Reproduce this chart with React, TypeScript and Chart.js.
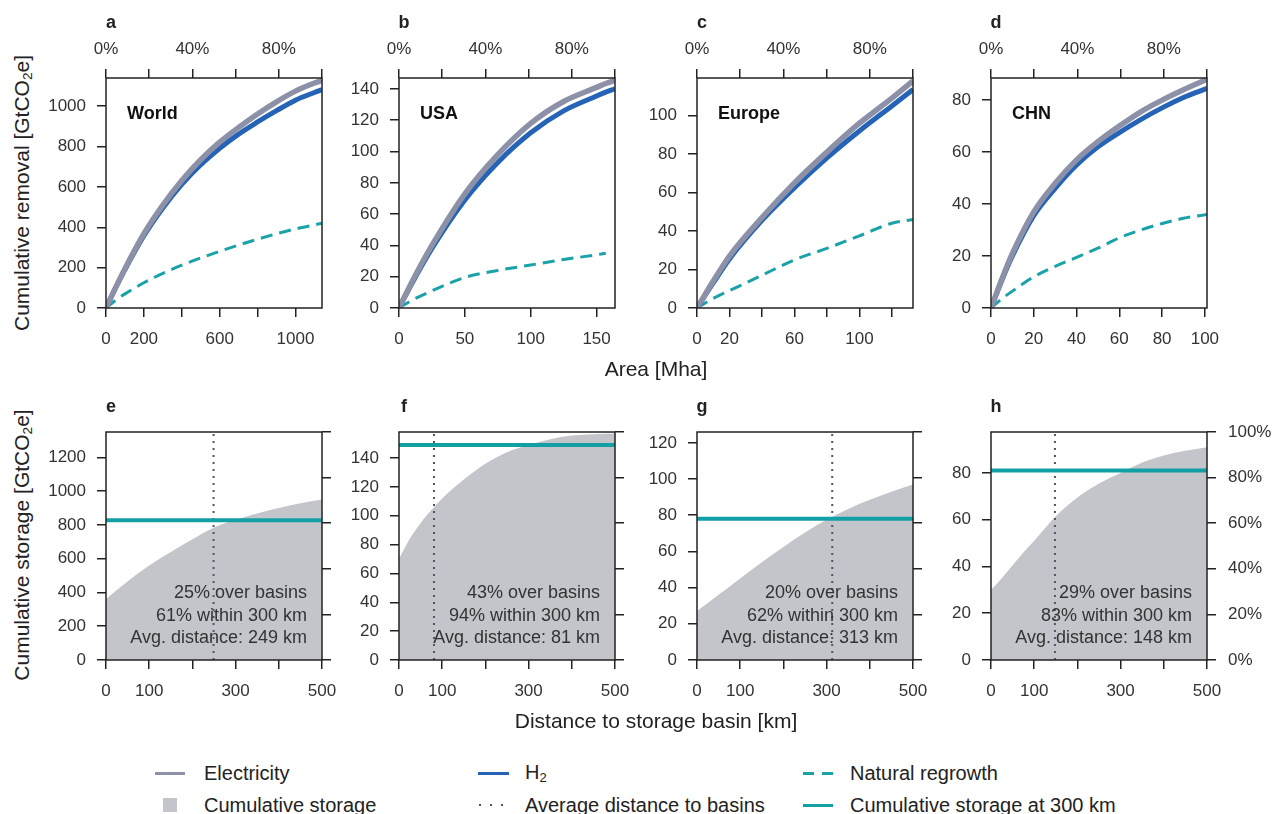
import React, { useEffect, useRef } from 'react';
import { Chart, registerables } from 'chart.js';

Chart.register(...registerables);

const FONT = '"Liberation Sans", Arial, Helvetica, sans-serif';
const GREY = '#8d91a8';
const BLUE = '#2563b6';
const TEAL_DASH = '#19a3a8';
const TEAL = '#12a0a4';
const AREA = '#c3c5cb';
const DOT = '#4f5569';
const INK = '#222';
const TICK_TXT = '#333';

// ---------- top row: cumulative removal vs area ----------
const regionNames = ['World', 'USA', 'Europe', 'CHN'];

const areaWorld = [0, 50, 100, 200, 300, 400, 500, 600, 700, 800, 900, 1000, 1100, 1140];
const elecWorld = [0, 100, 195, 368, 510, 632, 735, 822, 895, 962, 1022, 1075, 1115, 1128];
const h2World = [0, 98, 190, 358, 496, 613, 710, 792, 862, 922, 978, 1030, 1068, 1082];
const regrowthWorld = [0, 38, 70, 125, 172, 212, 248, 281, 312, 341, 368, 392, 412, 420];

const areaUSA = [0, 10, 25, 50, 75, 100, 125, 150, 157, 164];
const elecUSA = [0, 17, 40, 73, 98, 118, 132, 141, 143.5, 145.5];
const h2USA = [0, 16, 38, 69, 93, 112, 126, 135.5, 138, 140];
const regrowthUSA = [0, 5, 11, 19.5, 24, 27.5, 31, 34, 35, null];

const areaEurope = [0, 10, 20, 40, 60, 80, 100, 120, 133];
const elecEurope = [0, 14, 27, 47, 65, 81, 96, 109, 118];
const h2Europe = [0, 13, 25.5, 45.5, 62.5, 78, 92, 105, 113.5];
const regrowthEurope = [0, 5, 9, 17, 25, 31, 37.5, 44, 46];

const areaChina = [0, 5, 10, 20, 30, 40, 50, 60, 70, 80, 90, 101];
const elecChina = [0, 11, 21, 37, 48, 57, 64, 70, 75.5, 80, 84, 88];
const h2China = [0, 10.5, 20, 35.5, 46, 55, 62, 67.5, 72.5, 77, 81, 84.5];
const regrowthChina = [0, 3.5, 6.5, 12, 16, 19.5, 23, 27, 30, 32.5, 34.5, 36];

const areaSeries = [areaWorld, areaUSA, areaEurope, areaChina];
const elecSeries = [elecWorld, elecUSA, elecEurope, elecChina];
const h2Series = [h2World, h2USA, h2Europe, h2China];
const regrowthSeries = [regrowthWorld, regrowthUSA, regrowthEurope, regrowthChina];

const areaMax = [1140, 164, 133, 101];
const removalMax = [1140, 147, 119.5, 88.5];
const areaStep = [200, 50, 20, 20];
const removalStep = [200, 20, 20, 20];
const hiddenAreaTicks = [[400, 800], [], [40, 80, 120], []];
const percentTickLabels = [0, 40, 80];

// ---------- bottom row: cumulative storage vs distance ----------
const distanceKm = [0, 25, 50, 75, 100, 150, 200, 250, 300, 350, 400, 450, 500];
const storageWorld = [360, 415, 465, 515, 560, 640, 715, 785, 830, 868, 900, 928, 950];
const storageUSA = [70, 84, 95, 104, 112, 125, 136, 144, 149, 153, 155.5, 156.5, 157];
const storageEurope = [27, 31.5, 36, 40.5, 45, 54, 62.5, 70.5, 77.5, 83.5, 88.5, 93, 97];
const storageChina = [30, 35, 40.5, 46, 51, 61.5, 69.5, 75.5, 80, 84.5, 87.5, 89.5, 91];
const storageSeries = [storageWorld, storageUSA, storageEurope, storageChina];

const storageAt300 = [828, 149, 78, 81];
const storageTotal = [1350, 158, 126, 97.5];
const storageStep = [200, 20, 20, 20];
const avgDistance = [249, 81, 313, 148];
const overBasinsPct = [25, 43, 20, 29];
const within300Pct = [61, 94, 62, 83];
const hiddenDistanceTicks = [200, 400];

const panelLetters = ['a', 'b', 'c', 'd', 'e', 'f', 'g', 'h'];

// ---------- layout ----------
const BOX_LEFT = [106, 399, 697, 991];
const BOX_W = 216;
const TOP_Y = 78;
const TOP_H = 230;
const BOT_Y = 432;
const BOT_H = 228;
const ML = 70, MR = 70, MT = 55, MB = 55;

const tickGrid = {
  drawOnChartArea: false,
  drawTicks: true,
  tickLength: 9,
  tickWidth: 1.5,
  tickColor: INK,
  color: INK,
  lineWidth: 1.5,
};
const tickFont = { family: FONT, size: 17 };

const panelPlugin = {
  id: 'panelBox',
  afterDraw(chart: any, _args: any, opts: any) {
    const { ctx, chartArea } = chart;
    const { left, top, right, bottom } = chartArea;
    ctx.save();
    if (opts.label) {
      ctx.fillStyle = '#111';
      ctx.font = `bold 18px ${FONT}`;
      ctx.textAlign = 'left';
      ctx.textBaseline = 'alphabetic';
      ctx.fillText(opts.label, left + 21, top + 41);
    }
    if (opts.notes) {
      ctx.fillStyle = TICK_TXT;
      ctx.font = `18px ${FONT}`;
      ctx.textAlign = 'right';
      ctx.textBaseline = 'alphabetic';
      const offs = [62, 39, 17];
      opts.notes.forEach((t: string, k: number) => ctx.fillText(t, right - 15, bottom - offs[k]));
    }
    ctx.strokeStyle = INK;
    ctx.lineWidth = 1.5;
    ctx.strokeRect(left, top, right - left, bottom - top);
    ctx.restore();
  },
};

function pts(xs: number[], ys: (number | null)[]) {
  const out: { x: number; y: number }[] = [];
  xs.forEach((x, k) => {
    const y = ys[k];
    if (y !== null && y !== undefined) out.push({ x, y });
  });
  return out;
}

function topConfig(i: number): any {
  const xs = areaSeries[i];
  const hidden = hiddenAreaTicks[i];
  return {
    type: 'line',
    data: {
      datasets: [
        {
          label: 'Natural regrowth',
          data: pts(xs, regrowthSeries[i]),
          borderColor: TEAL_DASH,
          borderWidth: 3,
          borderDash: [12, 7],
          pointRadius: 0,
          cubicInterpolationMode: 'monotone',
          fill: false,
          order: 3,
        },
        {
          label: 'H2',
          data: pts(xs, h2Series[i]),
          borderColor: BLUE,
          borderWidth: 5,
          pointRadius: 0,
          cubicInterpolationMode: 'monotone',
          fill: false,
          order: 2,
        },
        {
          label: 'Electricity',
          data: pts(xs, elecSeries[i]),
          borderColor: GREY,
          borderWidth: 5.5,
          pointRadius: 0,
          cubicInterpolationMode: 'monotone',
          fill: false,
          order: 1,
        },
      ],
    },
    options: {
      animation: false,
      responsive: false,
      maintainAspectRatio: false,
      events: [],
      layout: { padding: { left: 0, right: MR, top: 0, bottom: 0 } },
      plugins: {
        legend: { display: false },
        tooltip: { enabled: false },
        panelBox: { label: regionNames[i] },
      },
      scales: {
        x: {
          type: 'linear',
          position: 'bottom',
          min: 0,
          max: areaMax[i],
          ticks: {
            stepSize: areaStep[i],
            includeBounds: false,
            autoSkip: false,
            maxRotation: 0,
            padding: 12,
            font: tickFont,
            color: TICK_TXT,
            callback: (v: any) => (hidden.includes(Number(v)) ? '' : String(v)),
          },
          grid: tickGrid,
          border: { display: false },
          afterFit: (s: any) => { s.height = MB; },
        },
        x2: {
          type: 'linear',
          position: 'top',
          display: true,
          min: 0,
          max: 100,
          ticks: {
            stepSize: 20,
            includeBounds: false,
            autoSkip: false,
            maxRotation: 0,
            padding: 9,
            font: tickFont,
            color: TICK_TXT,
            callback: (v: any) => (percentTickLabels.includes(Number(v)) ? `${v}%` : ''),
          },
          grid: tickGrid,
          border: { display: false },
          afterFit: (s: any) => { s.height = MT; },
        },
        y: {
          type: 'linear',
          position: 'left',
          min: 0,
          max: removalMax[i],
          ticks: {
            stepSize: removalStep[i],
            includeBounds: false,
            autoSkip: false,
            padding: 11,
            font: tickFont,
            color: TICK_TXT,
            callback: (v: any) => String(v),
          },
          grid: tickGrid,
          border: { display: false },
          afterFit: (s: any) => { s.width = ML; },
        },
      },
    },
    plugins: [panelPlugin],
  };
}

function bottomConfig(i: number): any {
  const total = storageTotal[i];
  return {
    type: 'line',
    data: {
      datasets: [
        {
          label: 'Cumulative storage',
          data: pts(distanceKm, storageSeries[i]),
          borderColor: 'rgba(0,0,0,0)',
          borderWidth: 0,
          backgroundColor: AREA,
          fill: 'origin',
          pointRadius: 0,
          cubicInterpolationMode: 'monotone',
          order: 3,
        },
        {
          label: 'Average distance to basins',
          data: [
            { x: avgDistance[i], y: 0 },
            { x: avgDistance[i], y: total },
          ],
          borderColor: DOT,
          borderWidth: 2,
          borderDash: [2, 5],
          pointRadius: 0,
          fill: false,
          order: 2,
        },
        {
          label: 'Cumulative storage at 300 km',
          data: [
            { x: 0, y: storageAt300[i] },
            { x: 500, y: storageAt300[i] },
          ],
          borderColor: TEAL,
          borderWidth: 4,
          pointRadius: 0,
          fill: false,
          order: 1,
        },
      ],
    },
    options: {
      animation: false,
      responsive: false,
      maintainAspectRatio: false,
      events: [],
      layout: { padding: { left: 0, right: 0, top: MT, bottom: 0 } },
      plugins: {
        legend: { display: false },
        tooltip: { enabled: false },
        panelBox: {
          notes: [
            `${overBasinsPct[i]}% over basins`,
            `${within300Pct[i]}% within 300 km`,
            `Avg. distance: ${avgDistance[i]} km`,
          ],
        },
      },
      scales: {
        x: {
          type: 'linear',
          position: 'bottom',
          min: 0,
          max: 500,
          ticks: {
            stepSize: 100,
            includeBounds: false,
            autoSkip: false,
            maxRotation: 0,
            padding: 12,
            font: tickFont,
            color: TICK_TXT,
            callback: (v: any) => (hiddenDistanceTicks.includes(Number(v)) ? '' : String(v)),
          },
          grid: tickGrid,
          border: { display: false },
          afterFit: (s: any) => { s.height = MB; },
        },
        y: {
          type: 'linear',
          position: 'left',
          min: 0,
          max: total,
          ticks: {
            stepSize: storageStep[i],
            includeBounds: false,
            autoSkip: false,
            padding: 11,
            font: tickFont,
            color: TICK_TXT,
            callback: (v: any) => String(v),
          },
          grid: tickGrid,
          border: { display: false },
          afterFit: (s: any) => { s.width = ML; },
        },
        y2: {
          type: 'linear',
          position: 'right',
          display: true,
          min: 0,
          max: 100,
          ticks: {
            stepSize: 20,
            includeBounds: false,
            autoSkip: false,
            padding: 12,
            font: tickFont,
            color: TICK_TXT,
            callback: (v: any) => (i === 3 ? `${v}%` : ''),
          },
          grid: tickGrid,
          border: { display: false },
          afterFit: (s: any) => { s.width = MR; },
        },
      },
    },
    plugins: [panelPlugin],
  };
}

function ChartCanvas({ left, top, width, height, make }: any) {
  const ref = useRef<HTMLCanvasElement>(null);
  useEffect(() => {
    const chart = new Chart(ref.current as HTMLCanvasElement, make());
    return () => chart.destroy();
  }, []);
  return (
    <canvas
      ref={ref}
      width={width}
      height={height}
      style={{ position: 'absolute', left, top, width, height }}
    />
  );
}

const abs = (extra: any): any => ({ position: 'absolute', whiteSpace: 'nowrap', lineHeight: 1, ...extra });

function CO2e() {
  return (
    <>
      GtCO<sub style={{ fontSize: '0.65em', verticalAlign: '-0.25em' }}>2</sub>e
    </>
  );
}

export default function App() {
  return (
    <div
      style={{
        position: 'absolute',
        left: 0,
        top: 0,
        width: 1281,
        height: 814,
        background: '#fff',
        fontFamily: FONT,
        color: INK,
        overflow: 'hidden',
      }}
    >
      {BOX_LEFT.map((bl, i) => (
        <ChartCanvas
          key={'t' + i}
          left={bl - ML}
          top={TOP_Y - MT}
          width={BOX_W + ML + MR}
          height={TOP_H + MT + MB}
          make={() => topConfig(i)}
        />
      ))}
      {BOX_LEFT.map((bl, i) => (
        <ChartCanvas
          key={'b' + i}
          left={bl - ML}
          top={BOT_Y - MT}
          width={BOX_W + ML + MR}
          height={BOT_H + MT + MB}
          make={() => bottomConfig(i)}
        />
      ))}

      {/* panel letters */}
      {BOX_LEFT.map((bl, i) => (
        <div key={'lt' + i} style={abs({ left: bl + 5, top: 22, transform: 'translate(-50%,-50%)', fontWeight: 'bold', fontSize: 18 })}>
          {panelLetters[i]}
        </div>
      ))}
      {BOX_LEFT.map((bl, i) => (
        <div key={'lb' + i} style={abs({ left: bl + 5, top: 406, transform: 'translate(-50%,-50%)', fontWeight: 'bold', fontSize: 18 })}>
          {panelLetters[i + 4]}
        </div>
      ))}

      {/* axis titles */}
      <div style={abs({ left: 23, top: 193, transform: 'translate(-50%,-50%) rotate(-90deg)', fontSize: 21 })}>
        Cumulative removal [<CO2e />]
      </div>
      <div style={abs({ left: 23, top: 545, transform: 'translate(-50%,-50%) rotate(-90deg)', fontSize: 21 })}>
        Cumulative storage [<CO2e />]
      </div>
      <div style={abs({ left: 656, top: 368, transform: 'translate(-50%,-50%)', fontSize: 21 })}>Area [Mha]</div>
      <div style={abs({ left: 656, top: 720, transform: 'translate(-50%,-50%)', fontSize: 21 })}>
        Distance to storage basin [km]
      </div>

      {/* legend */}
      <div style={abs({ left: 155, top: 772, width: 30, height: 3, background: GREY })} />
      <div style={abs({ left: 204, top: 773, transform: 'translateY(-50%)', fontSize: 20 })}>Electricity</div>
      <div style={abs({ left: 163, top: 798, width: 14, height: 14, background: AREA })} />
      <div style={abs({ left: 204, top: 805, transform: 'translateY(-50%)', fontSize: 20 })}>Cumulative storage</div>

      <div style={abs({ left: 478, top: 772, width: 31, height: 3, background: BLUE })} />
      <div style={abs({ left: 525, top: 773, transform: 'translateY(-50%)', fontSize: 20 })}>
        H<sub style={{ fontSize: '0.65em', verticalAlign: '-0.25em' }}>2</sub>
      </div>
      <div
        style={abs({
          left: 479,
          top: 804,
          width: 26,
          height: 2,
          background: `repeating-linear-gradient(to right, ${DOT} 0px, ${DOT} 2px, transparent 2px, transparent 11px)`,
        })}
      />
      <div style={abs({ left: 525, top: 805, transform: 'translateY(-50%)', fontSize: 20 })}>Average distance to basins</div>

      <div
        style={abs({
          left: 803,
          top: 772,
          width: 30,
          height: 3,
          background: `repeating-linear-gradient(to right, ${TEAL_DASH} 0px, ${TEAL_DASH} 11px, transparent 11px, transparent 19px)`,
        })}
      />
      <div style={abs({ left: 850, top: 773, transform: 'translateY(-50%)', fontSize: 20 })}>Natural regrowth</div>
      <div style={abs({ left: 803, top: 804, width: 30, height: 3, background: TEAL })} />
      <div style={abs({ left: 850, top: 805, transform: 'translateY(-50%)', fontSize: 20 })}>
        Cumulative storage at 300 km
      </div>
    </div>
  );
}
